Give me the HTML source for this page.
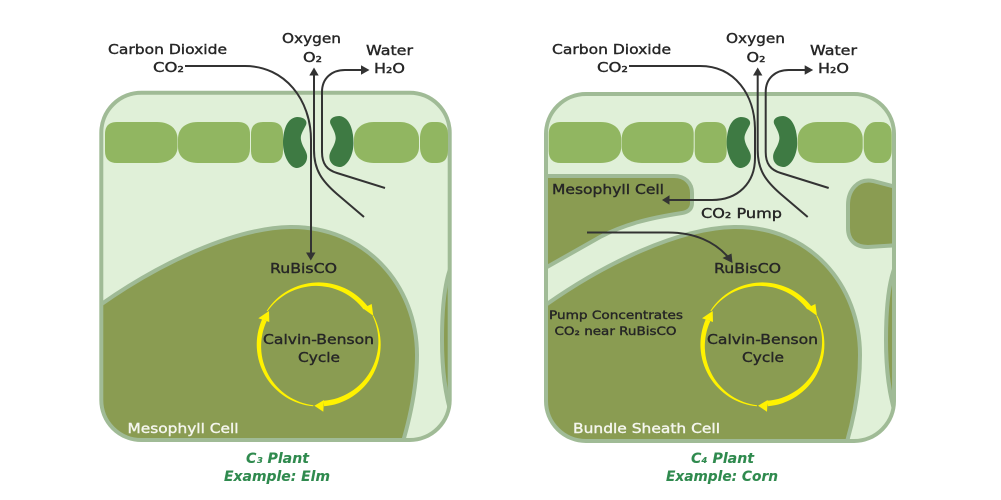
<!DOCTYPE html>
<html><head><meta charset="utf-8"><style>
html,body{margin:0;padding:0;background:#fff}
svg{display:block}
text{font-family:"DejaVu Sans","Liberation Sans",sans-serif;fill:#262626;font-size:13.5px;font-weight:400;stroke:#262626;stroke-width:.38}
.w{fill:#f5f6ee;stroke:#f5f6ee}
.t{fill:#2f8a4e;stroke:#2f8a4e;font-style:italic;font-weight:700;font-size:14px;stroke-width:.1}
.l{fill:none;stroke:#333;stroke-width:2}
</style></head><body>
<svg width="1001" height="500" viewBox="0 0 1001 500" xmlns="http://www.w3.org/2000/svg">
<defs>
<clipPath id="a"><rect x="101.300" y="92.700" width="348.400" height="347.300" rx="40"/></clipPath>
<clipPath id="b"><rect x="546" y="94" width="348" height="347" rx="40"/></clipPath>
</defs>
<rect width="1001" height="500" fill="#fff"/>

<!-- LEFT -->
<rect x="101.300" y="92.700" width="348.400" height="347.300" rx="40" fill="#e0f0d8"/>
<g clip-path="url(#a)" fill="#8a9c52" stroke="#9fba96" stroke-width="4">
<path d="M96,308 C160,262 235,228 290,227 C365,226 417,285 417,355 C417,385 411,415 402,445 H96 Z"/>
<path d="M453,262 C444,280 442,310 442,340 C442,370 445,395 453,420 Z"/>
</g>
<rect x="101.300" y="92.700" width="348.400" height="347.300" rx="40" fill="none" stroke="#a0bb96" stroke-width="4"/>
<g fill="#91b661">
<path d="M117,122 H157 C170,122 177.500,129 177.500,139 V147 C177.500,156 170,163 157,163 H117 Q105,163 105,151 V134 Q105,122 117,122Z"/>
<path d="M198,122 H238 Q250,122 250,134 V148 Q250,163 235,163 H198 C185,163 178,156 178,147 V139 C178,129 185,122 198,122Z"/>
<path d="M263,122 H271 Q283,122 283,134 V151 Q283,163 271,163 H263 Q251,163 251,151 V134 Q251,122 263,122Z"/>
<path d="M374,122 H400 C412,122 419,130 419,139 V147 C419,156 412,163 400,163 H374 C361,163 354,156 354,147 V139 C354,130 361,122 374,122Z"/>
<path d="M432,122 H437 Q448,122 448,135 V150 Q448,163 437,163 H432 C425,163 420,156 420,147 V138 C420,129 425,122 432,122Z"/>
<path fill="#3e7a43" d="M297,117 C303,117 308,120 306,125 C303,131 300,135 301,140 C302,146 306,150 307,155 C308,163 302,168 296,168 C289,167 283,155 283,143 C283,130 287,118 297,117Z"/>
<path fill="#3e7a43" d="M339.500,116 C333.500,116 328.500,119 330.500,124 C333.500,130 336.500,135 335.500,140 C334.500,146 330.500,150 329.500,155 C328.500,163 334.500,167 340.500,167 C347.500,166 353.500,155 353.500,143 C353.500,130 349.500,117 339.500,116Z"/>
</g>
<path class="l" d="M185,66 H245 C285,66 311,100 311,140 V254"/>
<path d="M306,252.500 H315.500 L310.800,260.500Z" fill="#333"/>
<path class="l" d="M364,217 L337,194 C322,181 314,170 314,150 V74"/>
<path d="M309.300,75.500 L314,67.500 L318.700,75.500Z" fill="#333"/>
<path class="l" d="M385,188 L337,173 C327,170 322,164 322,152 V92 C322,78 332,70 345,70 H362"/>
<path d="M361,65.300 L369.500,70 L361,74.700Z" fill="#333"/>

<g fill="#fff200">
<path d="M266.700,310.700 A62,62 0 0 1 367.600,306.300 L363.600,309.400 A59.500,59.500 0 0 0 267.500,311.300Z"/>
<path d="M373.400,315.400 A62,62 0 0 1 324.100,406.300 L323.600,400.800 A59.500,59.500 0 0 0 372.600,315.900Z"/>
<path d="M313.300,406.300 A62,62 0 0 1 262.100,319.300 L266.600,321.300 A59.500,59.500 0 0 0 313.400,405.300Z"/>
<path d="M362.700,308.300 L371.700,304 L373.300,315.700Z"/>
<path d="M324,400 L323.300,411.700 L314.300,405.700Z"/>
<path d="M258.300,318.300 L269.300,322 L269,311Z"/>
</g>

<text x="108" y="54" textLength="119" lengthAdjust="spacingAndGlyphs">Carbon Dioxide</text>
<text x="153" y="72" textLength="31" lengthAdjust="spacingAndGlyphs">CO₂</text>
<text x="282" y="43" textLength="59" lengthAdjust="spacingAndGlyphs">Oxygen</text>
<text x="303" y="62" textLength="19" lengthAdjust="spacingAndGlyphs">O₂</text>
<text x="366" y="55" textLength="47" lengthAdjust="spacingAndGlyphs">Water</text>
<text x="374" y="73" textLength="31" lengthAdjust="spacingAndGlyphs">H₂O</text>
<text x="270" y="273" textLength="67" lengthAdjust="spacingAndGlyphs">RuBisCO</text>
<text x="263" y="344" textLength="111" lengthAdjust="spacingAndGlyphs">Calvin-Benson</text>
<text x="298" y="362" textLength="42" lengthAdjust="spacingAndGlyphs">Cycle</text>
<text class="w" x="127.500" y="433" textLength="111" lengthAdjust="spacingAndGlyphs">Mesophyll Cell</text>
<text class="t" x="246" y="463" textLength="63" lengthAdjust="spacingAndGlyphs">C₃ Plant</text>
<text class="t" x="224" y="481" textLength="106" lengthAdjust="spacingAndGlyphs">Example: Elm</text>

<!-- RIGHT -->
<rect x="546" y="94" width="348" height="347" rx="40" fill="#e0f0d8"/>
<g clip-path="url(#b)" fill="#8a9c52" stroke="#9fba96" stroke-width="4">
<path d="M540,176 H674 C685,176 692,183 692,193 V203 C692,209 688,212 682,213 C650,218 625,224 600,237 L540,271 Z"/>
<path d="M540,309 C605,262 680,228 734,227 C810,226 860,285 860,355 C860,385 855,415 846,445 H540 Z"/>
<path d="M900,188 L873,181 C858,178 848,190 848,205 V228 C848,240 855,247 868,247 L900,245 Z"/>
<path d="M897,262 C888,280 886,310 886,340 C886,370 889,395 897,420 Z"/>
</g>
<rect x="546" y="94" width="348" height="347" rx="40" fill="none" stroke="#a0bb96" stroke-width="4"/>
<g transform="translate(443.700,0)" fill="#91b661">
<path d="M117,122 H157 C170,122 177.500,129 177.500,139 V147 C177.500,156 170,163 157,163 H117 Q105,163 105,151 V134 Q105,122 117,122Z"/>
<path d="M198,122 H238 Q250,122 250,134 V148 Q250,163 235,163 H198 C185,163 178,156 178,147 V139 C178,129 185,122 198,122Z"/>
<path d="M263,122 H271 Q283,122 283,134 V151 Q283,163 271,163 H263 Q251,163 251,151 V134 Q251,122 263,122Z"/>
<path d="M374,122 H400 C412,122 419,130 419,139 V147 C419,156 412,163 400,163 H374 C361,163 354,156 354,147 V139 C354,130 361,122 374,122Z"/>
<path d="M432,122 H437 Q448,122 448,135 V150 Q448,163 437,163 H432 C425,163 420,156 420,147 V138 C420,129 425,122 432,122Z"/>
<path fill="#3e7a43" d="M297,117 C303,117 308,120 306,125 C303,131 300,135 301,140 C302,146 306,150 307,155 C308,163 302,168 296,168 C289,167 283,155 283,143 C283,130 287,118 297,117Z"/>
<path fill="#3e7a43" d="M339.500,116 C333.500,116 328.500,119 330.500,124 C333.500,130 336.500,135 335.500,140 C334.500,146 330.500,150 329.500,155 C328.500,163 334.500,167 340.500,167 C347.500,166 353.500,155 353.500,143 C353.500,130 349.500,117 339.500,116Z"/>
</g>
<path class="l" d="M629,66 H700 C735,66 755,95 755,130 V158 C755,183 738,200 712,200 H668"/>
<path d="M669.500,195.300 L662,200 L669.500,204.700Z" fill="#333"/>
<path class="l" d="M587,232.500 H668 C695,232.500 715,242 728,257"/>
<path d="M722.500,258 L731.500,253.500 L732.500,263Z" fill="#333"/>
<g transform="translate(443.700,0)">
<path class="l" d="M364,217 L337,194 C322,181 314,170 314,150 V74"/>
<path d="M309.300,75.500 L314,67.500 L318.700,75.500Z" fill="#333"/>
<path class="l" d="M385,188 L337,173 C327,170 322,164 322,152 V92 C322,78 332,70 345,70 H362"/>
<path d="M361,65.300 L369.500,70 L361,74.700Z" fill="#333"/>
</g>

<g fill="#fff200" transform="translate(443.700,0)">
<path d="M266.700,310.700 A62,62 0 0 1 367.600,306.300 L363.600,309.400 A59.500,59.500 0 0 0 267.500,311.300Z"/>
<path d="M373.400,315.400 A62,62 0 0 1 324.100,406.300 L323.600,400.800 A59.500,59.500 0 0 0 372.600,315.900Z"/>
<path d="M313.300,406.300 A62,62 0 0 1 262.100,319.300 L266.600,321.300 A59.500,59.500 0 0 0 313.400,405.300Z"/>
<path d="M362.700,308.300 L371.700,304 L373.300,315.700Z"/>
<path d="M324,400 L323.300,411.700 L314.300,405.700Z"/>
<path d="M258.300,318.300 L269.300,322 L269,311Z"/>
</g>

<text x="552" y="54" textLength="119" lengthAdjust="spacingAndGlyphs">Carbon Dioxide</text>
<text x="597" y="72" textLength="31" lengthAdjust="spacingAndGlyphs">CO₂</text>
<text x="726" y="43" textLength="59" lengthAdjust="spacingAndGlyphs">Oxygen</text>
<text x="746.500" y="62" textLength="19" lengthAdjust="spacingAndGlyphs">O₂</text>
<text x="810" y="55" textLength="47" lengthAdjust="spacingAndGlyphs">Water</text>
<text x="818" y="73" textLength="31" lengthAdjust="spacingAndGlyphs">H₂O</text>
<text x="552" y="194" textLength="112" lengthAdjust="spacingAndGlyphs">Mesophyll Cell</text>
<text x="701" y="218" textLength="81" lengthAdjust="spacingAndGlyphs">CO₂ Pump</text>
<text x="714" y="273" textLength="67" lengthAdjust="spacingAndGlyphs">RuBisCO</text>
<text x="549" y="319" textLength="134" lengthAdjust="spacingAndGlyphs" style="font-size:11.500px">Pump Concentrates</text>
<text x="554.500" y="335" textLength="122" lengthAdjust="spacingAndGlyphs" style="font-size:11.500px">CO₂ near RuBisCO</text>
<text x="707" y="344" textLength="111" lengthAdjust="spacingAndGlyphs">Calvin-Benson</text>
<text x="742" y="362" textLength="42" lengthAdjust="spacingAndGlyphs">Cycle</text>
<text class="w" x="573" y="433" textLength="147" lengthAdjust="spacingAndGlyphs">Bundle Sheath Cell</text>
<text class="t" x="691" y="463" textLength="63" lengthAdjust="spacingAndGlyphs">C₄ Plant</text>
<text class="t" x="666" y="481" textLength="112" lengthAdjust="spacingAndGlyphs">Example: Corn</text>
</svg>
</body></html>
